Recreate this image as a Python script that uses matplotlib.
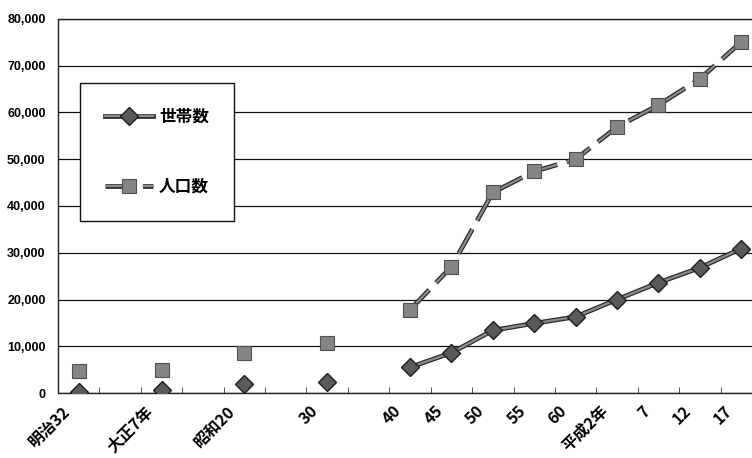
import numpy as np
import matplotlib
matplotlib.use("Agg")
import matplotlib.pyplot as plt
import matplotlib.patheffects as pe
import matplotlib.transforms as mtransforms

plt.rcParams["font.family"] = ["Noto Sans CJK JP", "DejaVu Sans"]
plt.rcParams["lines.scale_dashes"] = False

# categories (empty slots keep Excel's spacing)
categories = ["明治32", "", "大正7年", "", "昭和20", "", "30", "",
              "40", "45", "50", "55", "60", "平成2年", "7", "12", "17"]
nan = np.nan
households = [200, nan, 600, nan, 1900, nan, 2300, nan,
              5500, 8600, 13400, 14900, 16300, 20000, 23600, 26800, 30900]
population = [4700, nan, 4900, nan, 8600, nan, 10700, nan,
              17800, 27000, 42900, 47400, 50000, 56900, 61600, 67200, 75100]
yticks = [0, 10000, 20000, 30000, 40000, 50000, 60000, 70000, 80000]

fig = plt.figure(figsize=(7.52, 4.58), dpi=100)
# plot area runs past the right edge like the scanned original
ax = fig.add_axes([58 / 752, 65 / 458, 704 / 752, 374 / 458])

x = np.arange(len(categories))

outline = [pe.Stroke(linewidth=3.4, foreground="#2a2a2a"), pe.Normal()]

# lines (outlined) and markers drawn separately so markers stay small
hl, = ax.plot(x, households, color="#8c8c8c", lw=1.6, path_effects=outline, zorder=3)
hm, = ax.plot(x, households, ls="none", marker="D", markersize=9,
              markerfacecolor="#5a5a5a", markeredgecolor="#1e1e1e",
              markeredgewidth=1, zorder=5)
pl, = ax.plot(x, population, color="#8c8c8c", lw=1.6, linestyle=(0, (20, 7)),
              path_effects=outline, zorder=3)
pm, = ax.plot(x, population, ls="none", marker="s", markersize=10,
              markerfacecolor="#858585", markeredgecolor="#505050",
              markeredgewidth=0.8, zorder=4)

ax.set_xlim(-0.5, len(categories) - 0.5)
ax.set_ylim(0, 80000)
ax.set_yticks(yticks)
ax.set_yticklabels([f"{v:,}" for v in yticks], family="Liberation Sans",
                   fontsize=9, fontweight="bold")
ax.tick_params(axis="y", length=0, pad=9)

ax.set_xticks(x)
ax.set_xticklabels(categories, rotation=45, ha="right", rotation_mode="anchor",
                   fontsize=11.5, fontweight="bold")
ax.tick_params(axis="x", length=0, pad=7)
shift = mtransforms.ScaledTranslation(-17 / 100, 0, fig.dpi_scale_trans)
for lab in ax.get_xticklabels():
    lab.set_transform(lab.get_transform() + shift)
ax.set_xticks(np.arange(len(categories) + 1) - 0.5, minor=True)
ax.tick_params(axis="x", which="minor", direction="in", length=4, color="#333333")

ax.grid(axis="y", color="#111111", lw=0.9)
ax.set_axisbelow(True)
for side in ["top", "left", "bottom"]:
    ax.spines[side].set_linestyle((0, (1, 1)))
    ax.spines[side].set_color("#222222")
    ax.spines[side].set_linewidth(1)
ax.spines["right"].set_visible(False)

leg = ax.legend([(hl, hm), (pl, pm)], ["世帯数", "人口数"],
                loc="upper left", bbox_to_anchor=(0.031, 0.829),
                prop={"size": 12, "weight": "bold"},
                frameon=True, fancybox=False, edgecolor="#111111",
                handlelength=2.9, handletextpad=0.35, borderpad=1.5,
                labelspacing=3.1, borderaxespad=0)
leg.get_frame().set_linewidth(1)
leg.get_frame().set_alpha(1)
leg.set_zorder(10)

fig.savefig("out.png", dpi=100)
